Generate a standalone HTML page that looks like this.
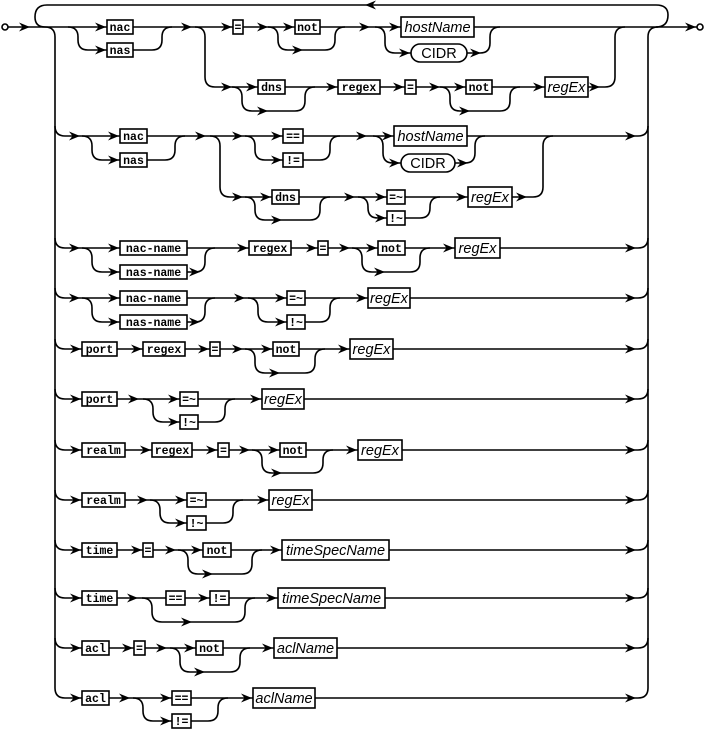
<!DOCTYPE html>
<html><head><meta charset="utf-8"><style>
html,body{margin:0;padding:0;background:#fff}
svg{display:block}
.l{fill:none;stroke:#000;stroke-width:1.6}
.k{fill:#fff;stroke:#000;stroke-width:1.6}
.m{font-family:"Liberation Mono",monospace;font-weight:bold;font-size:11.5px;text-anchor:middle}
.i{font-family:"Liberation Sans",sans-serif;font-style:italic;font-size:14.5px;text-anchor:middle}
.n{font-family:"Liberation Sans",sans-serif;font-size:14.5px;text-anchor:middle}
</style></head><body>
<svg width="705" height="730" viewBox="0 0 705 730" xmlns="http://www.w3.org/2000/svg">
<defs>
<path id="a" d="M0 0 L-11 -4.5 L-7.5 0 L-11 4.5 Z" fill="#000"/>
<path id="al" d="M0 0 L11 -4.5 L7.5 0 L11 4.5 Z" fill="#000"/>
</defs>
<circle cx="5" cy="27" r="3" class="l"/>
<circle cx="700" cy="27" r="3" class="l"/>
<path class="l" d="M8 27 L697 27"/>
<use href="#a" x="30" y="27"/><use href="#a" x="696" y="27"/>
<path class="l" d="M45 27 Q35 27 35 17 Q35 5 47 5 L656 5 Q668 5 668 15 Q668 27 656 27"/>
<use href="#al" x="365" y="5"/>
<path class="l" d="M45 27 Q55 27 55 37 L55 688 Q55 698 65 698"/>
<path class="l" d="M638 698 Q648 698 648 688 L648 37 Q648 27 658 27"/>
<g class="l">
<path d="M55 126 Q55 136 65 136 L638 136 Q648 136 648 126"/>
<path d="M55 238 Q55 248 65 248 L638 248 Q648 248 648 238"/>
<path d="M55 288 Q55 298 65 298 L638 298 Q648 298 648 288"/>
<path d="M55 339 Q55 349 65 349 L638 349 Q648 349 648 339"/>
<path d="M55 389 Q55 399 65 399 L638 399 Q648 399 648 389"/>
<path d="M55 440 Q55 450 65 450 L638 450 Q648 450 648 440"/>
<path d="M55 490 Q55 500 65 500 L638 500 Q648 500 648 490"/>
<path d="M55 540 Q55 550 65 550 L638 550 Q648 550 648 540"/>
<path d="M55 588 Q55 598 65 598 L638 598 Q648 598 648 588"/>
<path d="M55 638 Q55 648 65 648 L638 648 Q648 648 648 638"/>
<path d="M638 698 L65 698"/>
<path d="M68 27 Q78 27 78 37 L78 40 Q78 50 88 50 L152 50 Q162 50 162 40 L162 37 Q162 27 172 27"/>
<path d="M195 27 Q205 27 205 37 L205 77 Q205 87 215 87 L605 87 Q615 87 615 77 L615 37 Q615 27 625 27"/>
<path d="M268 27 Q278 27 278 37 L278 40 Q278 50 288 50 L325 50 Q335 50 335 40 L335 37 Q335 27 345 27"/>
<path d="M375 27 Q385 27 385 37 L385 43 Q385 53 395 53 L480 53 Q490 53 490 43 L490 37 Q490 27 500 27"/>
<path d="M232 87 Q242 87 242 97 L242 101 Q242 111 252 111 L295 111 Q305 111 305 101 L305 97 Q305 87 315 87"/>
<path d="M440 87 Q450 87 450 97 L450 101 Q450 111 460 111 L500 111 Q510 111 510 101 L510 97 Q510 87 520 87"/>
<path d="M82 136 Q92 136 92 146 L92 150 Q92 160 102 160 L165 160 Q175 160 175 150 L175 146 Q175 136 185 136"/>
<path d="M210 136 Q220 136 220 146 L220 187 Q220 197 230 197 L533 197 Q543 197 543 187 L543 146 Q543 136 553 136"/>
<path d="M245 136 Q255 136 255 146 L255 150 Q255 160 265 160 L320 160 Q330 160 330 150 L330 146 Q330 136 340 136"/>
<path d="M373 136 Q383 136 383 146 L383 153 Q383 163 393 163 L465 163 Q475 163 475 153 L475 146 Q475 136 485 136"/>
<path d="M245 197 Q255 197 255 207 L255 210 Q255 220 265 220 L310 220 Q320 220 320 210 L320 207 Q320 197 330 197"/>
<path d="M358 197 Q368 197 368 207 L368 208 Q368 218 378 218 L420 218 Q430 218 430 208 L430 207 Q430 197 440 197"/>
<path d="M82 248 Q92 248 92 258 L92 262 Q92 272 102 272 L195 272 Q205 272 205 262 L205 258 Q205 248 215 248"/>
<path d="M352 248 Q362 248 362 258 L362 262 Q362 272 372 272 L410 272 Q420 272 420 262 L420 258 Q420 248 430 248"/>
<path d="M82 298 Q92 298 92 308 L92 312 Q92 322 102 322 L195 322 Q205 322 205 312 L205 308 Q205 298 215 298"/>
<path d="M248 298 Q258 298 258 308 L258 312 Q258 322 268 322 L320 322 Q330 322 330 312 L330 308 Q330 298 340 298"/>
<path d="M245 349 Q255 349 255 359 L255 363 Q255 373 265 373 L305 373 Q315 373 315 363 L315 359 Q315 349 325 349"/>
<path d="M143 399 Q153 399 153 409 L153 412 Q153 422 163 422 L215 422 Q225 422 225 412 L225 409 Q225 399 235 399"/>
<path d="M252 450 Q262 450 262 460 L262 463 Q262 473 272 473 L313 473 Q323 473 323 463 L323 460 Q323 450 333 450"/>
<path d="M150 500 Q160 500 160 510 L160 513 Q160 523 170 523 L223 523 Q233 523 233 513 L233 510 Q233 500 243 500"/>
<path d="M178 550 Q188 550 188 560 L188 564 Q188 574 198 574 L242 574 Q252 574 252 564 L252 560 Q252 550 262 550"/>
<path d="M142 598 Q152 598 152 608 L152 612 Q152 622 162 622 L235 622 Q245 622 245 612 L245 608 Q245 598 255 598"/>
<path d="M170 648 Q180 648 180 658 L180 662 Q180 672 190 672 L230 672 Q240 672 240 662 L240 658 Q240 648 250 648"/>
<path d="M133 698 Q143 698 143 708 L143 711 Q143 721 153 721 L208 721 Q218 721 218 711 L218 708 Q218 698 228 698"/>
</g>
<g>
<use href="#a" x="106" y="27"/><use href="#a" x="106" y="50"/><use href="#a" x="192" y="27"/><use href="#a" x="232" y="27"/><use href="#a" x="268" y="27"/><use href="#a" x="294" y="27"/><use href="#a" x="303" y="50"/><use href="#a" x="370" y="27"/><use href="#a" x="400" y="27"/><use href="#a" x="410" y="53"/><use href="#a" x="481" y="53"/>
<use href="#a" x="232" y="87"/><use href="#a" x="257" y="87"/><use href="#a" x="268" y="111"/><use href="#a" x="337" y="87"/><use href="#a" x="404" y="87"/><use href="#a" x="440" y="87"/><use href="#a" x="465" y="87"/><use href="#a" x="470" y="111"/><use href="#a" x="544" y="87"/><use href="#a" x="600" y="87"/>
<use href="#a" x="80" y="136"/><use href="#a" x="119" y="136"/><use href="#a" x="119" y="160"/><use href="#a" x="206" y="136"/><use href="#a" x="243" y="136"/><use href="#a" x="282" y="136"/><use href="#a" x="282" y="160"/><use href="#a" x="367" y="136"/><use href="#a" x="393" y="136"/><use href="#a" x="400" y="163"/><use href="#a" x="468" y="163"/><use href="#a" x="636" y="136"/>
<use href="#a" x="243" y="197"/><use href="#a" x="271" y="197"/><use href="#a" x="282" y="220"/><use href="#a" x="355" y="197"/><use href="#a" x="386" y="197"/><use href="#a" x="386" y="218"/><use href="#a" x="467" y="197"/><use href="#a" x="527" y="197"/>
<use href="#a" x="80" y="248"/><use href="#a" x="119" y="248"/><use href="#a" x="119" y="272"/><use href="#a" x="200" y="272"/><use href="#a" x="248" y="248"/><use href="#a" x="317" y="248"/><use href="#a" x="350" y="248"/><use href="#a" x="377" y="248"/><use href="#a" x="385" y="272"/><use href="#a" x="454" y="248"/><use href="#a" x="636" y="248"/>
<use href="#a" x="80" y="298"/><use href="#a" x="119" y="298"/><use href="#a" x="119" y="322"/><use href="#a" x="200" y="322"/><use href="#a" x="245" y="298"/><use href="#a" x="286" y="298"/><use href="#a" x="286" y="322"/><use href="#a" x="367" y="298"/><use href="#a" x="636" y="298"/>
<use href="#a" x="81" y="349"/><use href="#a" x="142" y="349"/><use href="#a" x="209" y="349"/><use href="#a" x="243" y="349"/><use href="#a" x="272" y="349"/><use href="#a" x="280" y="373"/><use href="#a" x="349" y="349"/><use href="#a" x="636" y="349"/>
<use href="#a" x="81" y="399"/><use href="#a" x="139" y="399"/><use href="#a" x="179" y="399"/><use href="#a" x="179" y="422"/><use href="#a" x="261" y="399"/><use href="#a" x="636" y="399"/>
<use href="#a" x="81" y="450"/><use href="#a" x="151" y="450"/><use href="#a" x="217" y="450"/><use href="#a" x="250" y="450"/><use href="#a" x="279" y="450"/><use href="#a" x="282" y="473"/><use href="#a" x="357" y="450"/><use href="#a" x="636" y="450"/>
<use href="#a" x="81" y="500"/><use href="#a" x="148" y="500"/><use href="#a" x="186" y="500"/><use href="#a" x="186" y="523"/><use href="#a" x="268" y="500"/><use href="#a" x="636" y="500"/>
<use href="#a" x="81" y="550"/><use href="#a" x="142" y="550"/><use href="#a" x="176" y="550"/><use href="#a" x="202" y="550"/><use href="#a" x="213" y="574"/><use href="#a" x="281" y="550"/><use href="#a" x="636" y="550"/>
<use href="#a" x="81" y="598"/><use href="#a" x="138" y="598"/><use href="#a" x="209" y="598"/><use href="#a" x="192" y="622"/><use href="#a" x="277" y="598"/><use href="#a" x="636" y="598"/>
<use href="#a" x="81" y="648"/><use href="#a" x="133" y="648"/><use href="#a" x="167" y="648"/><use href="#a" x="195" y="648"/><use href="#a" x="205" y="672"/><use href="#a" x="273" y="648"/><use href="#a" x="636" y="648"/>
<use href="#a" x="81" y="698"/><use href="#a" x="130" y="698"/><use href="#a" x="171" y="698"/><use href="#a" x="171" y="721"/><use href="#a" x="252" y="698"/><use href="#a" x="636" y="698"/>
</g>
<g class="k">
<rect x="107" y="20" width="26" height="14"/><rect x="107" y="43" width="26" height="14"/>
<rect x="233" y="20" width="10" height="14"/><rect x="295" y="20" width="25" height="14"/>
<rect x="258" y="80" width="27" height="14"/><rect x="338" y="80" width="42" height="14"/><rect x="405" y="80" width="11" height="14"/><rect x="466" y="80" width="26" height="14"/>
<rect x="120" y="129" width="27" height="14"/><rect x="120" y="153" width="27" height="14"/>
<rect x="283" y="129" width="20" height="14"/><rect x="283" y="153" width="20" height="14"/>
<rect x="272" y="190" width="27" height="14"/><rect x="387" y="190" width="18" height="14"/><rect x="387" y="211" width="18" height="14"/>
<rect x="120" y="241" width="67" height="14"/><rect x="120" y="265" width="67" height="14"/><rect x="249" y="241" width="42" height="14"/><rect x="318" y="241" width="10" height="14"/><rect x="378" y="241" width="27" height="14"/>
<rect x="120" y="291" width="67" height="14"/><rect x="120" y="315" width="67" height="14"/><rect x="287" y="291" width="18" height="14"/><rect x="287" y="315" width="18" height="14"/>
<rect x="82" y="342" width="35" height="14"/><rect x="143" y="342" width="42" height="14"/><rect x="210" y="342" width="10" height="14"/><rect x="273" y="342" width="26" height="14"/>
<rect x="82" y="392" width="35" height="14"/><rect x="180" y="392" width="18" height="14"/><rect x="180" y="415" width="18" height="14"/>
<rect x="82" y="443" width="43" height="14"/><rect x="152" y="443" width="40" height="14"/><rect x="218" y="443" width="11" height="14"/><rect x="280" y="443" width="26" height="14"/>
<rect x="82" y="493" width="43" height="14"/><rect x="187" y="493" width="19" height="14"/><rect x="187" y="516" width="19" height="14"/>
<rect x="82" y="543" width="35" height="14"/><rect x="143" y="543" width="10" height="14"/><rect x="203" y="543" width="28" height="14"/>
<rect x="82" y="591" width="35" height="14"/><rect x="166" y="591" width="19" height="14"/><rect x="210" y="591" width="19" height="14"/>
<rect x="82" y="641" width="27" height="14"/><rect x="134" y="641" width="11" height="14"/><rect x="196" y="641" width="27" height="14"/>
<rect x="82" y="691" width="27" height="14"/><rect x="172" y="691" width="19" height="14"/><rect x="172" y="714" width="19" height="14"/>
<rect x="401" y="17" width="73" height="20"/><rect x="411" y="44" width="56" height="18" rx="9"/>
<rect x="545" y="77" width="43" height="20"/>
<rect x="394" y="126" width="73" height="20"/><rect x="401" y="154" width="54" height="18" rx="9"/>
<rect x="468" y="187" width="44" height="20"/>
<rect x="455" y="238" width="45" height="20"/><rect x="368" y="288" width="42" height="20"/><rect x="350" y="339" width="43" height="20"/><rect x="262" y="389" width="42" height="20"/><rect x="358" y="440" width="44" height="20"/><rect x="269" y="490" width="43" height="20"/>
<rect x="282" y="540" width="107" height="20"/><rect x="278" y="588" width="107" height="20"/><rect x="274" y="638" width="63" height="20"/><rect x="253" y="688" width="62" height="20"/>
</g>
<g class="m">
<text x="120" y="31">nac</text><text x="120" y="54">nas</text><text x="238" y="31">=</text><text x="307.5" y="31">not</text>
<text x="271.5" y="91">dns</text><text x="359" y="91">regex</text><text x="410.5" y="91">=</text><text x="479" y="91">not</text>
<text x="133.5" y="140">nac</text><text x="133.5" y="164">nas</text><text x="293" y="140">==</text><text x="293" y="164">!=</text>
<text x="285.5" y="201">dns</text><text x="396" y="201">=~</text><text x="396" y="222">!~</text>
<text x="153.5" y="252">nac-name</text><text x="153.5" y="276">nas-name</text><text x="270" y="252">regex</text><text x="323" y="252">=</text><text x="391.5" y="252">not</text>
<text x="153.5" y="302">nac-name</text><text x="153.5" y="326">nas-name</text><text x="296" y="302">=~</text><text x="296" y="326">!~</text>
<text x="99.5" y="353">port</text><text x="164" y="353">regex</text><text x="215" y="353">=</text><text x="286" y="353">not</text>
<text x="99.5" y="403">port</text><text x="189" y="403">=~</text><text x="189" y="426">!~</text>
<text x="103.5" y="454">realm</text><text x="172" y="454">regex</text><text x="223.5" y="454">=</text><text x="293" y="454">not</text>
<text x="103.5" y="504">realm</text><text x="196.5" y="504">=~</text><text x="196.5" y="527">!~</text>
<text x="99.5" y="554">time</text><text x="148" y="554">=</text><text x="217" y="554">not</text>
<text x="99.5" y="602">time</text><text x="175.5" y="602">==</text><text x="219.5" y="602">!=</text>
<text x="95.5" y="652">acl</text><text x="139.5" y="652">=</text><text x="209.5" y="652">not</text>
<text x="95.5" y="702">acl</text><text x="181.5" y="702">==</text><text x="181.5" y="725">!=</text>
</g>
<g class="i">
<text x="437.5" y="32">hostName</text><text x="566.5" y="92">regEx</text><text x="430.5" y="141">hostName</text><text x="490" y="202">regEx</text>
<text x="477.5" y="253">regEx</text><text x="389" y="303">regEx</text><text x="371.5" y="354">regEx</text><text x="283" y="404">regEx</text><text x="380" y="455">regEx</text><text x="290.5" y="505">regEx</text>
<text x="335.5" y="555">timeSpecName</text><text x="331.5" y="603">timeSpecName</text><text x="305.5" y="653">aclName</text><text x="284" y="703">aclName</text>
</g>
<g class="n"><text x="439" y="58">CIDR</text><text x="428" y="168">CIDR</text></g>
</svg>
</body></html>
